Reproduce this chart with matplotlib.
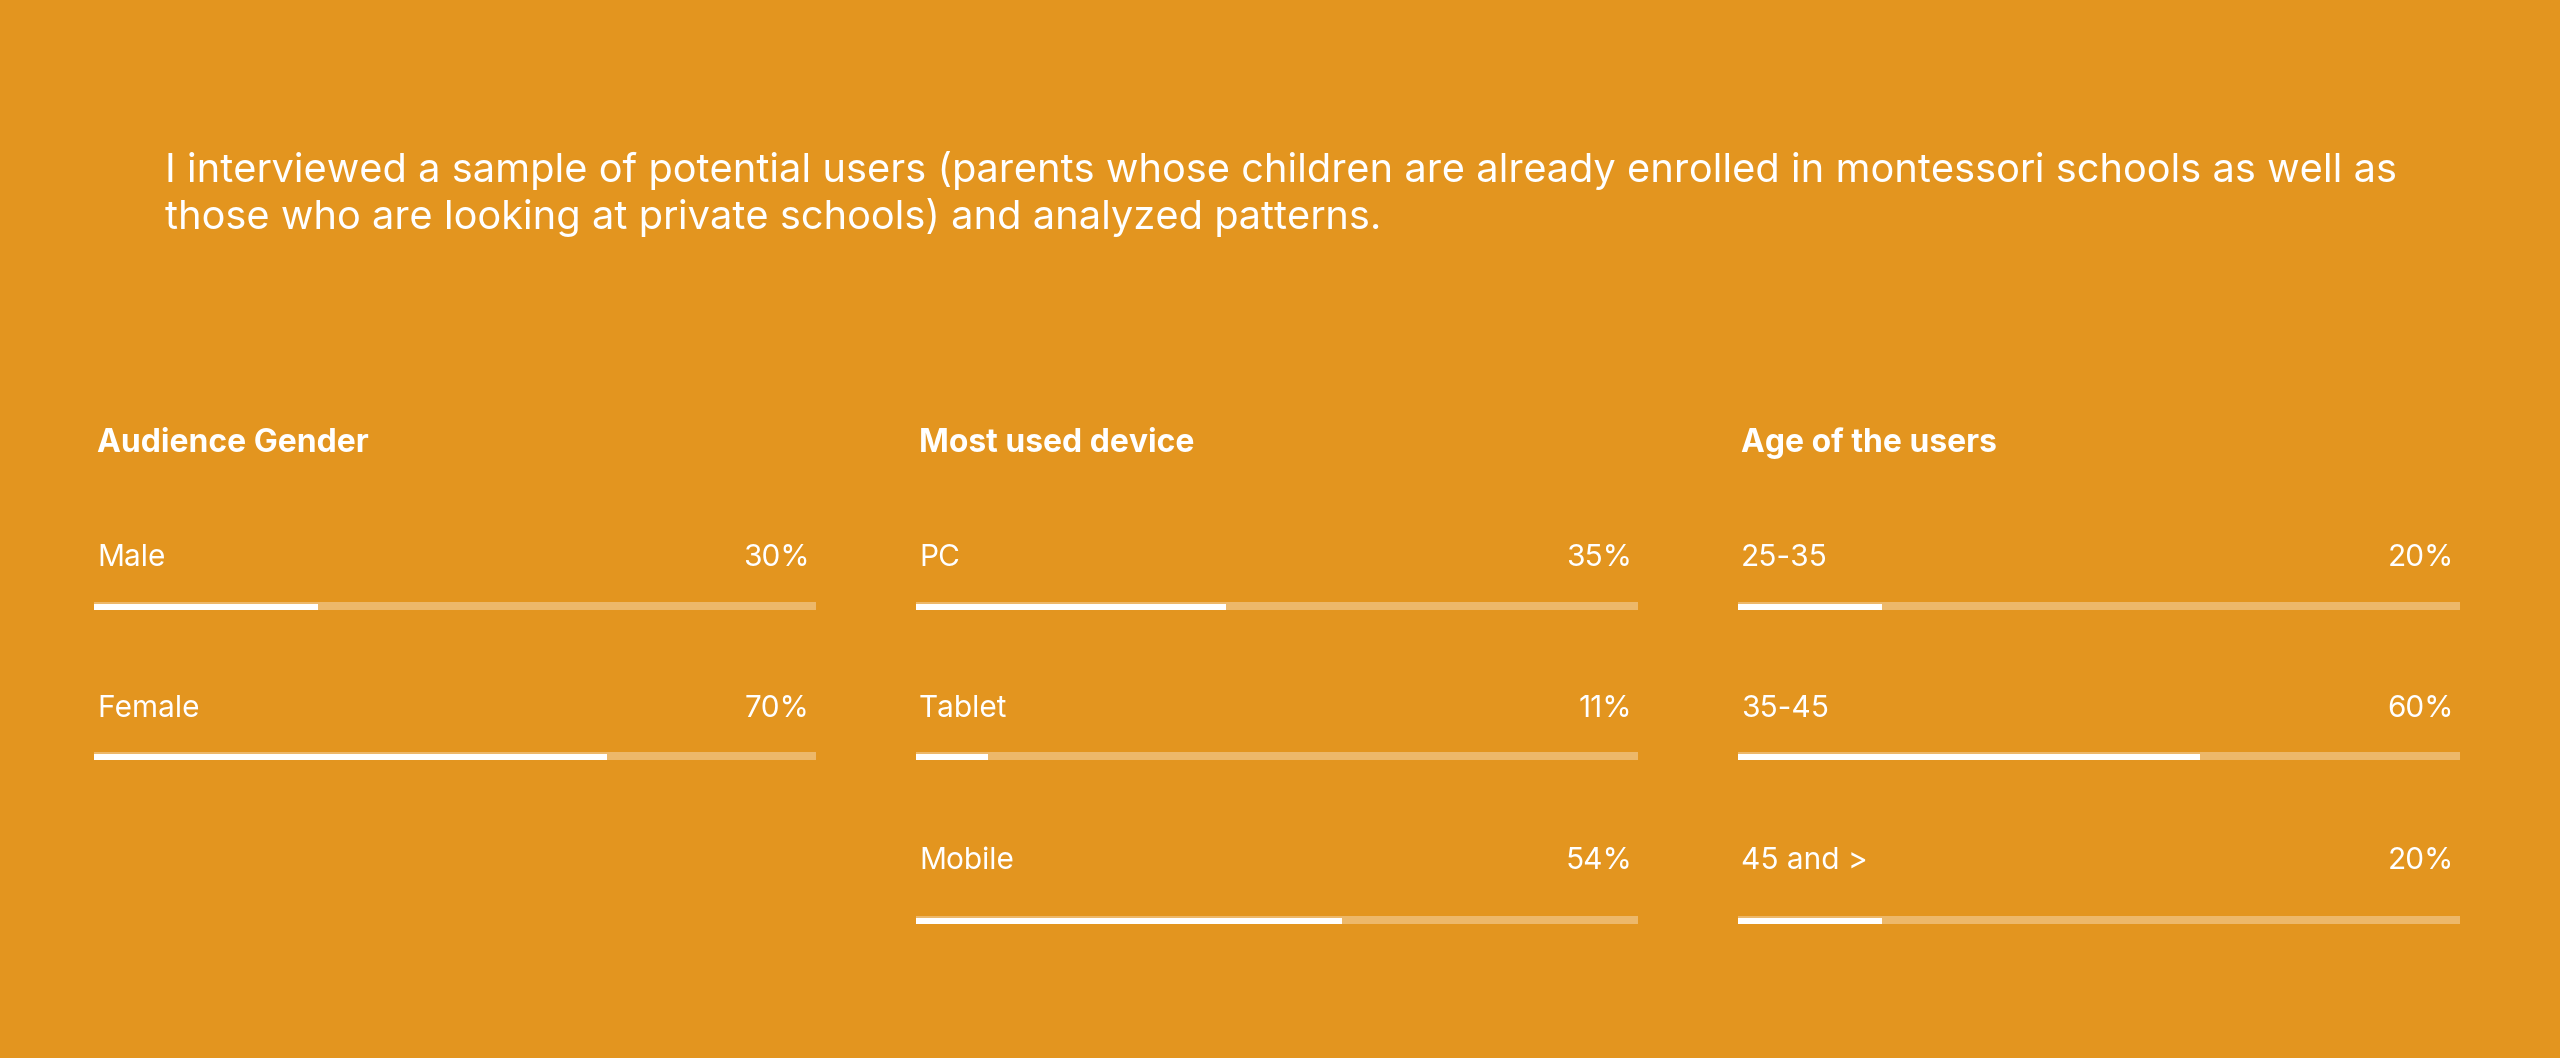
import matplotlib.pyplot as plt

plt.rcParams['font.family'] = ['Inter', 'DejaVu Sans']

BG = '#E3951F'
TRACK = '#EDB86A'

intro = ["I interviewed a sample of potential users (parents whose children are already enrolled in montessori schools as well as",
         "those who are looking at private schools) and analyzed patterns."]

titles = ['Audience Gender', 'Most used device', 'Age of the users']
gender_labels = ['Male', 'Female']
gender_pct = ['30%', '70%']
gender_fill = [31, 71]
device_labels = ['PC', 'Tablet', 'Mobile']
device_pct = ['35%', '11%', '54%']
device_fill = [43, 10, 59]
age_labels = ['25-35', '35-45', '45 and >']
age_pct = ['20%', '60%', '20%']
age_fill = [20, 64, 20]

W, H = 2560, 1058
fig = plt.figure(figsize=(W / 100, H / 100), dpi=100, facecolor=BG)
ax = fig.add_axes([0, 0, 1, 1])
ax.set_xlim(0, W)
ax.set_ylim(H, 0)
ax.axis('off')
ax.set_facecolor(BG)

# intro paragraph
for i, line in enumerate(intro):
    ax.text(165, 182 + i * 47, line, color='white', fontsize=28.65, va='baseline', ha='left')

cols = [(94, 810), (916, 1632), (1738, 2454)]
track_w = 722
label_base = [566, 717, 869]
bar_y = [606, 756, 920]

panels = [(gender_labels, gender_pct, gender_fill),
          (device_labels, device_pct, device_fill),
          (age_labels, age_pct, age_fill)]

for (x0, xr), title, (labs, pcts, fills) in zip(cols, titles, panels):
    ax.text(x0 + 3, 452, title, color='white', fontsize=23, fontweight='bold', va='baseline')
    for j, (lab, p, f) in enumerate(zip(labs, pcts, fills)):
        ax.text(x0 + 3, label_base[j], lab, color='white', fontsize=21.5, va='baseline')
        ax.text(xr, label_base[j], p, color='white', fontsize=21.5, va='baseline', ha='right')
        ax.barh(bar_y[j], track_w, left=x0, height=8, color=TRACK)
        ax.barh(bar_y[j] + 1, f / 100 * track_w, left=x0, height=6, color='white')

fig.savefig('out.png', dpi=100, facecolor=BG)
